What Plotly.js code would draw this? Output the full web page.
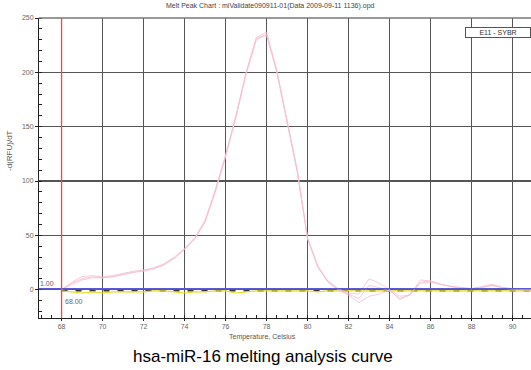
<!DOCTYPE html>
<html><head><meta charset="utf-8">
<script src="https://cdn.plot.ly/plotly-3.0.1.min.js"></script>
<style>body{margin:0;background:#fff}#c{width:531px;height:370px}</style>
</head><body><div id="c"></div>
<script>
var temps = [68,68.5,69,69.5,70,70.5,71,71.5,72,72.5,73,73.5,74,74.5,75,75.5,76,76.5,77,77.5,78,78.5,79,79.5,80,80.5,81,81.5,82,82.5,83,83.5,84,84.5,85,85.5,86,86.5,87,87.5,88,88.5,89,89.5,90,90.5,91];
var rep1 = [0,7,12,13,12,13,15,17,18,20,24,30,38,48,64,92,124,160,200,232,237,202,156,110,48,22,8,1,-3,-4,10,6,0,-6,-5,9,8,5,3,2,1,3,5,2,1,0,0];
var rep2 = [0,5,9,11,11,12,14,16,17,19,23,29,37,47,62,90,122,158,198,230,234,200,154,108,47,21,7,0,-5,-12,-6,-4,0,-9,-4,6,7,5,3,1,1,2,4,2,0,0,0];
var rep3 = [0,6,10,12,11,12,14,16,18,20,23,29,37,47,63,91,123,159,199,231,235,201,155,109,47,21,7,0,-4,-8,4,2,-1,-8,-5,7,8,5,3,2,1,2,4,2,1,0,0];
var ntc = [-1,-2,-3,-2,-3,-2,-2,-2,-2,-1,-1,-2,-3,-2,-2,-1,-1,-3,-2,-1,-1,-1,-1,-1,-1,-2,-1,-1,-1,-1,-1,-1,-1,-1,-1,-1,-1,-1,-1,-1,-1,-1,-1,-1,-1,-1,-1];
var baseX = [68,91];
var baseY = [-1,-1];
var threshold = 1.00;
var cutoff = 68.00;
var xTicks = [68,70,72,74,76,78,80,82,84,86,88,90];
var yTicks = [0,50,100,150,200,250];

var pink = 'rgba(246,190,210,0.9)';
var data = [
 {x:baseX,y:baseY,mode:'lines',line:{color:'#333',width:1.5,dash:'6px,8px'},hoverinfo:'none'},
 {x:temps,y:ntc,mode:'lines',line:{color:'#e6dc1e',width:1.2},hoverinfo:'none'},
 {x:temps,y:rep1,mode:'lines',line:{color:pink,width:0.9},hoverinfo:'none'},
 {x:temps,y:rep2,mode:'lines',line:{color:pink,width:0.9},hoverinfo:'none'},
 {x:temps,y:rep3,mode:'lines',line:{color:pink,width:0.9},hoverinfo:'none'}
];
var ff = 'Liberation Sans, Arial, sans-serif';
var tf = {family:ff,size:7,color:'#666'};
var layout = {
 width:531,height:370,showlegend:false,
 margin:{l:39,r:0,t:18,b:52},
 paper_bgcolor:'#fff',plot_bgcolor:'#fff',
 xaxis:{range:[66.9,90.9],tickvals:xTicks,ticktext:xTicks.map(String),showgrid:true,gridcolor:'#555',gridwidth:1.3,
   zeroline:false,showline:true,linecolor:'#222',linewidth:1,ticks:'outside',ticklen:2,tickcolor:'#222',tickfont:tf,
   minor:{dtick:0.5,tick0:68,ticks:'inside',ticklen:3,tickcolor:'#222',showgrid:false}},
 yaxis:{range:[-26,250],tickvals:yTicks,ticktext:yTicks.map(String),showgrid:true,gridcolor:'#555',gridwidth:1.3,
   zeroline:false,showline:true,linecolor:'#222',linewidth:1,ticks:'outside',ticklen:3,tickcolor:'#222',tickfont:tf,
   minor:{dtick:10,tick0:0,ticks:'inside',ticklen:3,tickcolor:'#222',showgrid:false}},
 shapes:[
  {type:'line',xref:'paper',yref:'y',x0:0,x1:1,y0:threshold,y1:threshold,line:{color:'#5a5ad8',width:1.5}},
  {type:'line',xref:'x',yref:'paper',x0:cutoff,x1:cutoff,y0:0,y1:1,line:{color:'#f04848',width:1.3}},
  {type:'line',xref:'paper',yref:'paper',x0:0,x1:1,y0:1,y1:1,line:{color:'#777',width:1.3}}
 ],
 annotations:[
  {xref:'paper',yref:'paper',x:0.47,y:1.04,xanchor:'center',yanchor:'middle',text:'Melt Peak Chart : miValidate090911-01(Data 2009-09-11 1136).opd',showarrow:false,font:{family:ff,size:7,color:'#444'}},
  {xref:'paper',yref:'paper',x:-0.059,y:0.56,xanchor:'center',yanchor:'middle',text:'-d(RFU)/dT',textangle:-90,showarrow:false,font:{family:ff,size:8,color:'#555'}},
  {xref:'paper',yref:'paper',x:0.455,y:-0.063,xanchor:'center',yanchor:'middle',text:'Temperature, Celsius',showarrow:false,font:{family:ff,size:7,color:'#555'}},
  {xref:'paper',yref:'paper',x:0.455,y:-0.127,xanchor:'center',yanchor:'middle',text:'hsa-miR-16 melting analysis curve',showarrow:false,font:{family:ff,size:17,color:'#000'}},
  {xref:'x',yref:'y',x:67.3,y:6,xanchor:'center',yanchor:'middle',text:threshold.toFixed(2),showarrow:false,font:tf},
  {xref:'x',yref:'y',x:68.6,y:-11,xanchor:'center',yanchor:'middle',text:cutoff.toFixed(2),showarrow:false,font:tf},
  {xref:'paper',yref:'paper',x:0.933,y:0.953,xanchor:'center',yanchor:'middle',text:'E11 - SYBR',showarrow:false,width:62,bgcolor:'#fff',bordercolor:'#555',borderwidth:1,borderpad:1,font:{family:ff,size:7,color:'#333'}}
 ]
};
Plotly.newPlot('c',data,layout,{staticPlot:true});
</script></body></html>
